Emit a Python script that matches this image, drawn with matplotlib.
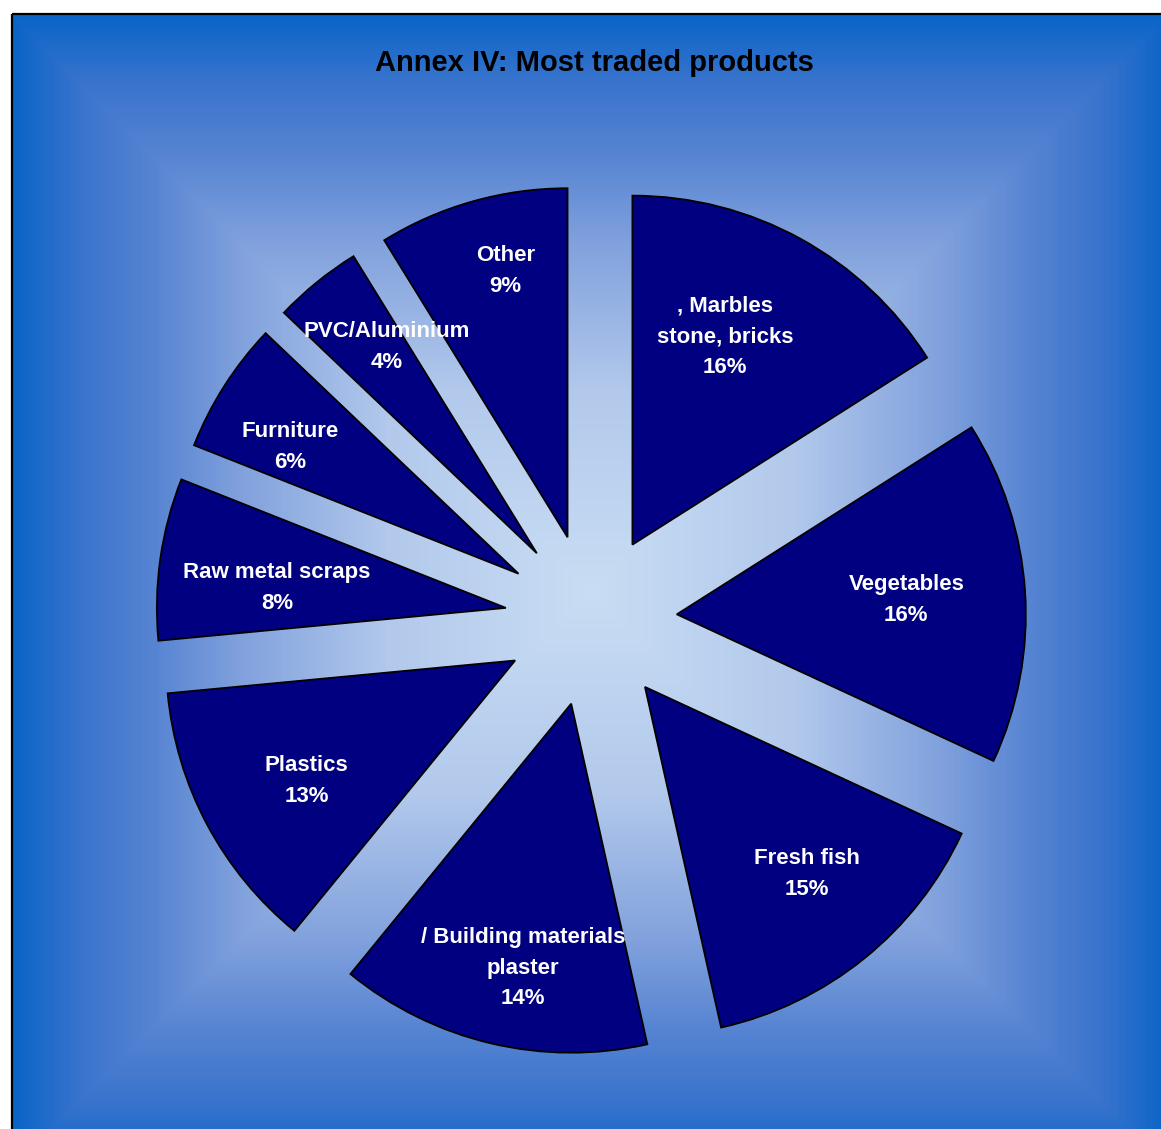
import numpy as np
import matplotlib
matplotlib.use("Agg")
import matplotlib.pyplot as plt
from matplotlib.colors import LinearSegmentedColormap

# ---- data ----
categories = [", Marbles\nstone, bricks", "Vegetables", "Fresh fish",
              "/ Building materials\nplaster", "Plastics", "Raw metal scraps",
              "Furniture", "PVC/Aluminium", "Other"]
shares = [16.0, 15.9, 14.6, 14.4, 12.6, 7.5, 6.1, 4.1, 8.8]
title = "Annex IV: Most traded products"

# ---- style ----
W, H = 1161, 1129
FONT = ["Liberation Sans", "DejaVu Sans"]
label_r = [0.652, 0.659, 0.71, 0.77, 0.69, 0.658, 0.748, 0.732, 0.783]
label_dang = [4.7, -0.25, 2, 3, 2, 3.2, 3.5, -3.0, -2.7]

fig = plt.figure(figsize=(W / 100, H / 100), dpi=100)
ax = fig.add_axes([0, 0, 1, 1])

# background gradient ("from centre" rectangular)
cmap = LinearSegmentedColormap.from_list(
    "bg", [(0.0, "#c9ddf3"), (0.35, "#b2c9ec"), (0.6, "#82a2dd"),
           (0.75, "#5885d3"), (0.88, "#3a74cd"), (1.0, "#0a64c8")])
xs = np.arange(12, W) + 0.5
ys = np.arange(14, H) + 0.5
X, Y = np.meshgrid(xs, ys)
t = np.maximum(np.abs(X - 591) / 579, np.abs(Y - 592) / 578)
ax.imshow(cmap(np.clip(t, 0, 1)), extent=[12, W, 0, H - 14], origin="upper",
          interpolation="bilinear", zorder=0)

ax.plot([12, 12], [0, H - 14], color="black", lw=1.6, zorder=1, solid_capstyle="butt")
ax.plot([12, W], [H - 14, H - 14], color="black", lw=1.6, zorder=1, solid_capstyle="butt")

R = 349
EXP = 86
cx, cy = 591, H - 620
labels = [f"{c}\n{int(s + 0.5)}%" for c, s in zip(categories, shares)]
wedges, texts = ax.pie(shares, labels=labels, startangle=90, counterclock=False,
                       explode=[EXP] * len(shares), radius=R, center=(cx, cy),
                       colors=["#000080"] * len(shares),
                       wedgeprops=dict(edgecolor="black", linewidth=1.3),
                       labeldistance=0.7,
                       textprops=dict(color="white", fontweight="bold", fontsize=16,
                                      family=FONT, ha="center", va="center",
                                      linespacing=1.62))
for w, tx, rf, da in zip(wedges, texts, label_r, label_dang):
    mid = np.deg2rad((w.theta1 + w.theta2) / 2 + da)
    px, py = w.center
    tx.set_position((px + rf * R * np.cos(mid), py + rf * R * np.sin(mid)))
    tx.set_ha("center")
    tx.set_va("center")
    tx.set_multialignment("center")

ax.text(594, H - 71, title, ha="center", va="baseline", fontsize=21,
        fontweight="bold", family=FONT, color="black")

ax.set_xlim(0, W)
ax.set_ylim(0, H)
ax.set_aspect("auto")
ax.axis("off")
fig.savefig("out.png", dpi=100, facecolor="white")
